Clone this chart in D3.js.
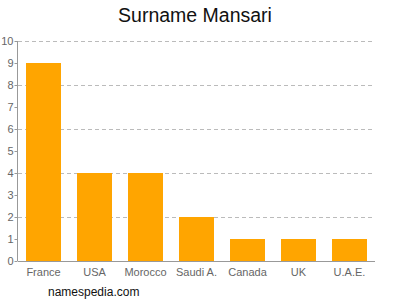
<!DOCTYPE html>
<html>
<head>
<meta charset="utf-8">
<script src="https://cdn.jsdelivr.net/npm/d3@7"></script>
<style>
  body { margin: 0; background: #fff; }
  svg { font-family: Arial, "Liberation Sans", sans-serif; }
</style>
</head>
<body>
<svg id="chart" width="400" height="300"></svg>
<script>
'use strict'

var countries = ['France', 'USA', 'Morocco', 'Saudi A.', 'Canada', 'UK', 'U.A.E.']
var counts = [9, 4, 4, 2, 1, 1, 1]
var yTicks = [0, 1, 2, 3, 4, 5, 6, 7, 8, 9, 10]
var gridTicks = [2, 4, 6, 8, 10]

var svg = d3.select('#chart')
var plotLeft = 18
var plotRight = 375
var plotTop = 41
var plotBottom = 261

var x = d3.scaleBand()
  .domain(countries)
  .range([plotLeft, plotRight])
  .paddingInner(0.314)
  .paddingOuter(0.157)

var y = d3.scaleLinear()
  .domain([0, 10])
  .range([plotBottom, plotTop])

// dashed grid
svg.append('g')
  .selectAll('line')
  .data(gridTicks)
  .enter().append('line')
    .attr('x1', plotLeft)
    .attr('x2', plotRight)
    .attr('y1', (d) => y(d) + 0.5)
    .attr('y2', (d) => y(d) + 0.5)
    .attr('stroke', '#bbb')
    .attr('stroke-dasharray', '4,3')

// bars
svg.append('g')
  .selectAll('rect')
  .data(counts)
  .enter().append('rect')
    .attr('x', (d, i) => x(countries[i]))
    .attr('y', (d) => y(d))
    .attr('width', x.bandwidth())
    .attr('height', (d) => y(0) - y(d))
    .attr('fill', '#ffa500')

// y axis
var yAxis = svg.append('g')
  .attr('transform', 'translate(' + (plotLeft - 0.5) + ',0)')
  .call(d3.axisLeft(y).tickValues(yTicks).tickSize(3).tickFormat(d3.format('d')))
yAxis.select('.domain').attr('stroke', '#999').attr('d', 'M0,' + plotTop + 'V' + plotBottom)
yAxis.selectAll('.tick line').attr('stroke', '#999')
yAxis.selectAll('.tick text')
  .attr('x', -4)
  .attr('fill', '#666')
  .style('font-size', '11px')
  .style('font-family', 'Arial, "Liberation Sans", sans-serif')

// x axis
var xAxis = svg.append('g')
  .attr('transform', 'translate(0,' + (plotBottom + 0.5) + ')')
  .call(d3.axisBottom(x).tickSize(0).tickPadding(7))
xAxis.select('.domain').attr('stroke', '#999').attr('d', 'M' + plotLeft + ',0H' + plotRight)
xAxis.selectAll('.tick text')
  .attr('fill', '#666')
  .style('font-size', '11px')
  .style('font-family', 'Arial, "Liberation Sans", sans-serif')

// title
svg.append('text')
  .attr('x', 195)
  .attr('y', 22)
  .attr('text-anchor', 'middle')
  .attr('fill', '#111')
  .style('font-size', '19.5px')
  .text('Surname Mansari')

// site label
svg.append('text')
  .attr('x', 48)
  .attr('y', 296)
  .attr('fill', '#111')
  .style('font-size', '12px')
  .text('namespedia.com')
</script>
</body>
</html>
